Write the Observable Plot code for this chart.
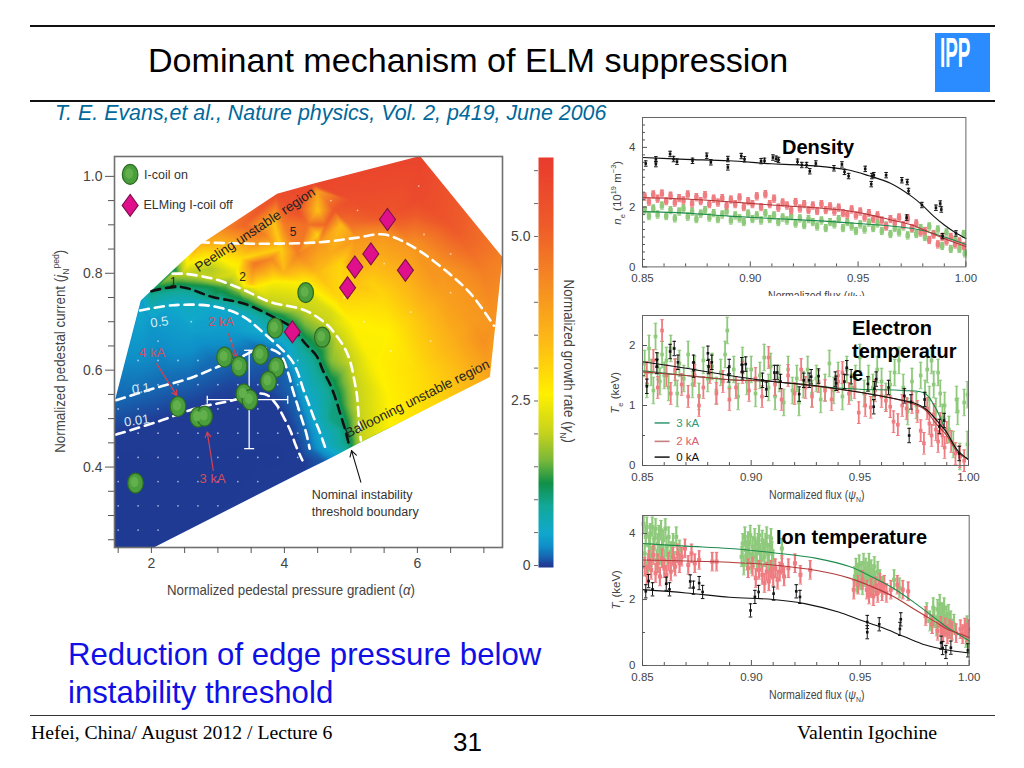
<!DOCTYPE html>
<html><head><meta charset="utf-8">
<script src="https://cdn.jsdelivr.net/npm/d3@7"></script>
<script src="https://cdn.jsdelivr.net/npm/@observablehq/plot@0.6"></script>
<style>
html,body{margin:0;padding:0;background:#fff;width:1024px;height:768px;overflow:hidden;font-family:"Liberation Sans",Arial,sans-serif}
#page{position:relative;width:1024px;height:768px;overflow:hidden}
.t{position:absolute;white-space:nowrap;line-height:1}
.t sub,.t sup{font-size:.65em;line-height:0}
.r{position:absolute;background:#111}
.p{position:absolute;overflow:hidden}
.p svg{display:block;background:transparent}
</style></head><body><div id="page"></div>
<script>
// ---------- slide texts ----------
const titleText="Dominant mechanism of ELM suppression";
const citation="T. E. Evans,et al., Nature physics, Vol. 2, p419, June 2006";
const bodyLines=["Reduction of edge pressure below","instability threshold"];
const footer=["Hefei, China/ August 2012 / Lecture 6","31","Valentin Igochine"];
// ---------- main chart ----------
const hull=[[1.45,.235,0],[2.05,.235,0],[4.3,.392,.005],[4.6,.412,.1],[4.8,.426,.5],[4.96,.438,1],[5.15,.451,2],[5.6,.482,2.6],[6.3,.531,3],[7.09,.586,3.8],[7.28,.833,4.5],[6.04,1.042,5.9],[4.43,.985,5.8],[3.89,.964,5.6],[2.75,.861,3.6],[2.32,.806,1.0],[1.84,.744,.4],[1.45,.537,.12],[1.45,.462,.005]];
const frameCorners=[[1.445,.234],[1.445,1.041],[7.28,1.041],[7.28,.234],[1.445,.234]];
const c5=[[2.73,.864],[3.56,.861],[4.53,.864],[5.07,.873],[5.5,.88],[5.94,.854],[6.42,.806],[6.8,.758],[7.15,.692]];
const c2=[[2.32,.799],[2.48,.799],[2.92,.789],[3.35,.768],[3.78,.741],[4.32,.723],[4.64,.694],[4.8,.668],[4.92,.642],[5,.613],[5.05,.58],[5.09,.55],[5.11,.517],[5.13,.48],[5.15,.455]];
const c1=[[2,.763],[2.43,.772],[2.92,.751],[3.4,.737],[3.83,.71],[4.1,.689],[4.32,.654],[4.49,.628],[4.58,.599],[4.69,.57],[4.77,.541],[4.84,.51],[4.91,.479],[4.97,.447]];
const c05=[[1.83,.723],[2.32,.734],[2.92,.732],[3.35,.713],[3.67,.679],[4.1,.622],[4.2,.595],[4.28,.562],[4.36,.533],[4.44,.503],[4.53,.473],[4.61,.442]];
const c01=[[1.47,.538],[2.03,.562],[2.57,.583],[3,.607],[3.32,.625],[3.65,.645],[3.92,.635],[4.06,.593],[4.12,.562],[4.19,.531],[4.26,.5],[4.33,.469],[4.38,.438]];
const c001=[[1.47,.467],[2.1,.494],[2.69,.522],[3.17,.536],[3.7,.551],[3.87,.531],[4,.5],[4.1,.472],[4.17,.445],[4.27,.414]];
const contours=[{l:5,v:4.1,d:c5,s:"#fff"},{l:2,v:2.0,d:c2,s:"#fff"},{l:1,v:1.05,d:c1,s:"#111"},{l:.5,v:.5,d:c05,s:"#fff"},{l:.1,v:.14,d:c01,s:"#fff"},{l:.01,v:.005,d:c001,s:"#fff"}];
const extraField=[[1.7,.3,0],[2.5,.35,0],[3.2,.4,0],[3.8,.42,0],[1.6,.4,0],[3,.5,.005],[5,.7,2.6],[5.3,.62,2.55],[5.55,.55,2.6],[5.55,.68,2.6],[5.5,.75,3],[6,.7,3.2],[6.5,.66,3.6],[7,.66,4.2],[6,.6,2.9],[6.6,.6,3.4],[6.8,.7,4],[7,.8,4.5],[6.5,.9,5.3],[6,.95,5.7],[5,.95,5.6],[5.6,.92,5.4],[4.5,.8,3.4],[4.3,.78,2.6],[4,.8,3.5],[3.55,.82,4.7],[3.35,.83,2.9],[3.8,.83,4.4],[3.65,.84,3.1],[3.95,.85,3.1],[4.2,.84,4.5],[4.7,.84,3.7],[5,.82,3.7],[5.3,.78,3.1],[5.8,.8,3.6],[6.2,.8,4.1],[6.4,.75,3.9],[4.5,.93,3.3],[4.2,.93,5.5],[4.75,.93,5.3],[4.5,.88,3],[3.4,.9,5],[3,.89,4.3],[3.1,.84,2.9],[2.9,.81,1.9],[4.8,.75,3],[5.1,.78,3.3],[4.7,.72,2.2],[4.72,.62,1.7],[4.4,.75,2.2],[2.5,.75,.7],[2,.7,.38],[2.6,.68,.42],[3.2,.68,.4],[1.9,.62,.28],[2.2,.6,.2],[2.9,.62,.16],[3.2,.57,.04],[3.6,.5,.005],[4.55,.55,.75],[4.7,.5,1],[3.85,.9,3.2],[3.85,.78,2.5],[3.7,.88,4.5],[4,.9,4.6],[4.35,.9,4.8],[4.5,.97,3.9],[4.62,.9,5],[4.85,.9,3.4],[4.85,.82,3],[4.98,.9,4.8],[3.5,.78,3.4],[3.6,.77,2.5],[3.25,.8,2.3],[3.3,.76,1.5],[3.1,.77,1.4],[2.9,.77,1.2]];
const sampleX=[1.5,1.8,2.1,2.4,2.7,3,3.3,3.6,3.9,4.2];
const sampleY=[.27,.32,.37,.42,.47,.52,.57,.62];
const moreSamples=[[3.2,.66],[2.6,.7],[2.1,.66],[4.9,.75],[5.2,.7],[5.6,.64],[5.9,.72],[6.2,.66],[6.5,.76],[6.02,.98],[6.1,.88],[5.1,.93],[4.7,.95],[5.5,.82],[6.5,.84]];
const greenDots=[[1.68,1.004],[4.32,.76],[3.86,.687],[4.57,.668],[3.1,.627],[3.32,.608],[3.64,.632],[3.88,.606],[3.76,.577],[3.39,.551],[3.48,.539],[2.4,.525],[2.7,.503],[2.8,.505],[1.76,.367]];
const pinkDots=[[1.68,.94],[5.55,.911],[5.06,.813],[5.3,.84],[5.82,.806],[4.95,.77],[4.12,.679]];
const arrowsRed=[[3.16,.675,3.28,.627],[2.08,.613,2.38,.548],[2.93,.393,2.84,.472]];
const arrowBlack=[[5.15,.369,5.01,.434]];
const crossV=[3.47,.438,.641],crossH=[.539,2.84,4.05];
const labelsWhite=[["0.5",2.12,.699],["0.1",1.84,.562],["0.01",1.78,.496]];
const labelsDark=[["5",4.13,.885],["2",3.37,.792],["1",2.33,.782]];
const labelsRed=[["2 kA",3.05,.699],["4 kA",2.01,.636],["3 kA",2.92,.376]];
const labelsBlack=[["I-coil on",1.89,1.002],["ELMing I-coil off",1.88,.941],["Nominal instability",4.41,.343],["threshold boundary",4.41,.307]];
const gammaStops=[0,.02,.14,.3,.5,.9,1.25,1.6,2.0,2.6,3.4,4.3,5.2,6.25];
const gammaColors=["#1f3a93","#1f3f98","#1668b2","#0f90c8","#10a8cc","#12a89a","#109048","#7ab83a","#c4d21e","#fff000","#fdbb15","#f58b22","#ee5a2a","#e8392e"];
// ---------- profile panels ----------
const neBlackFit=[[.85,3.66],[.87,3.6],[.89,3.55],[.91,3.45],[.93,3.38],[.945,3.25],[.955,3.05],[.965,2.8],[.975,2.35],[.98,2.05],[.985,1.7],[.99,1.4],[.995,1.15],[1,.95]];
const neRedFit=[[.85,2.32],[.87,2.27],[.89,2.18],[.91,2.07],[.93,1.98],[.945,1.88],[.955,1.75],[.965,1.58],[.975,1.4],[.985,1.1],[.99,.95],[1,.68]];
const neGreenFit=[[.85,1.85],[.87,1.8],[.89,1.7],[.91,1.62],[.93,1.55],[.95,1.45],[.97,1.33],[.98,1.22],[.99,1],[1,.75]];
const neBlack=[[.8515,3.46],[.8562,3.6],[.8562,3.44],[.8628,3.78],[.8644,3.61],[.866,3.52],[.8732,3.55],[.8798,3.72],[.8817,3.5],[.8896,3.61],[.8896,3.33],[.8958,3.71],[.8973,3.6],[.905,3.54],[.9066,3.55],[.9105,3.66],[.912,3.62],[.9131,3.58],[.9219,3.52],[.9239,3.41],[.9261,3.41],[.9276,3.2],[.9304,3.46],[.9388,3.3],[.9425,3.43],[.9437,3.18],[.9456,3.04],[.9533,3.28],[.9564,3.04],[.9573,3.07],[.9561,2.77],[.963,3.07],[.9703,2.9],[.9728,2.84],[.9734,2.54],[.9725,1.65],[.9796,2.07],[.9861,1.98],[.9881,2.12],[.9886,1.92],[.9892,1.03],[.9954,1.12]];
const neRed=[[.851,2.35],[.853,2.18],[.855,2.42],[.857,2.28],[.859,2.45],[.861,2.2],[.863,2.38],[.865,2.15],[.867,2.3],[.869,2.22],[.871,2.42],[.873,2.12],[.875,2.33],[.877,2.2],[.879,2.4],[.881,2.1],[.883,2.28],[.885,2.15],[.887,2.3],[.889,2.05],[.891,2.25],[.893,2.1],[.895,2.32],[.897,2],[.899,2.2],[.901,2.1],[.903,2.36],[.905,2],[.907,2.43],[.909,2.1],[.911,2.28],[.913,1.98],[.915,2.15],[.917,2.05],[.919,1.9],[.921,2.17],[.923,1.95],[.925,2.1],[.927,1.9],[.929,2.05],[.931,1.87],[.933,2.1],[.935,1.9],[.937,2.02],[.939,1.85],[.941,1.98],[.943,1.8],[.945,1.75],[.947,1.92],[.949,1.72],[.951,1.85],[.953,1.65],[.955,1.8],[.957,1.6],[.959,1.72],[.961,1.55],[.963,1.35],[.965,1.6],[.967,1.48],[.969,1.65],[.971,1.4],[.973,1.62],[.975,1.3],[.977,1.45],[.979,1.15],[.981,1.2],[.983,.9],[.985,1.08],[.987,.75],[.989,1],[.991,.85],[.993,1],[.995,.75],[.997,.85],[.999,.7]];
const neGreen=[[.851,1.9],[.853,1.7],[.855,1.95],[.857,1.75],[.859,2.05],[.861,1.7],[.863,1.9],[.865,1.62],[.867,1.85],[.869,1.95],[.871,1.68],[.873,1.85],[.875,1.6],[.877,1.78],[.879,1.9],[.881,1.65],[.883,1.8],[.885,1.6],[.887,1.75],[.889,1.85],[.891,1.55],[.893,1.72],[.895,1.62],[.897,1.5],[.899,1.78],[.901,1.6],[.903,1.72],[.905,1.55],[.907,1.8],[.909,1.6],[.911,1.72],[.913,1.5],[.915,1.65],[.917,1.55],[.919,1.7],[.921,1.45],[.923,1.62],[.925,1.4],[.927,1.6],[.929,1.5],[.931,1.35],[.933,1.55],[.935,1.3],[.937,1.5],[.939,1.42],[.941,1.6],[.943,1.3],[.945,1.5],[.947,1.35],[.949,1.2],[.951,1.42],[.953,1.25],[.955,1.48],[.957,1.3],[.959,1.45],[.961,1.2],[.963,1.38],[.965,1.1],[.967,1.3],[.969,1.15],[.971,1.35],[.973,1.05],[.975,1.28],[.977,1.1],[.979,1.3],[.981,1],[.983,1.35],[.985,1.1],[.987,1.25],[.989,.7],[.991,1.15],[.993,.6],[.995,.9],[.997,.6],[.999,1.1],[.9995,.45]];
const teGreenFit=[[.85,1.58],[.87,1.5],[.89,1.43],[.91,1.4],[.93,1.32],[.95,1.27],[.97,1.25],[.98,1.2],[.985,.95],[.99,.55],[.995,.25],[1,.1]];
const teRedFit=[[.85,1.56],[.87,1.5],[.89,1.43],[.91,1.4],[.93,1.32],[.95,1.22],[.965,1.12],[.975,1.02],[.98,.93],[.985,.7],[.99,.5],[.995,.22],[1,.1]];
const teBlackFit=[[.85,1.73],[.87,1.62],[.89,1.5],[.91,1.4],[.93,1.33],[.95,1.22],[.965,1.12],[.975,1.04],[.98,.95],[.983,.85],[.987,.68],[.99,.55],[.995,.25],[1,.1]];
const teBlack=[[.852,1.32],[.8566,1.76],[.8566,1.65],[.8627,1.9],[.8646,1.95],[.8663,1.72],[.8735,1.72],[.8735,1.59],[.8801,1.87],[.8804,1.65],[.8819,1.72],[.8899,1.65],[.8896,1.51],[.8957,1.68],[.896,1.56],[.8975,1.69],[.9052,1.42],[.907,1.27],[.9107,1.55],[.912,1.55],[.9135,1.4],[.9221,1.19],[.9242,1.42],[.9267,1.42],[.9276,1.48],[.931,1.49],[.9387,1.44],[.9391,1.37],[.9429,1.4],[.944,1.63],[.946,1.48],[.9537,1.36],[.9564,.98],[.9567,1.28],[.9575,1.44],[.9632,1.3],[.9705,1.16],[.9727,.5],[.9735,1.06],[.9798,1.1],[.9866,.65],[.9888,.75],[.9957,.2]];
const teGreen=[[.851,1.7],[.852,1.35],[.853,1.95],[.854,1.55],[.855,1.25],[.856,2.15],[.857,1.65],[.858,1.4],[.859,1.85],[.86,1.5],[.861,1.75],[.862,1.3],[.863,1.95],[.865,1.55],[.866,1.2],[.867,1.7],[.869,1.45],[.871,1.85],[.873,1.35],[.874,1.6],[.876,1.15],[.878,1.75],[.88,1.45],[.882,1.65],[.884,1.25],[.886,1.55],[.888,1.85],[.889,2.25],[.89,1.3],[.892,1.6],[.894,1.15],[.896,1.75],[.898,1.4],[.9,1.6],[.902,1.2],[.904,1.5],[.906,1.8],[.908,1.3],[.909,1.65],[.911,1.15],[.913,1.45],[.915,1.05],[.917,1.6],[.919,1.25],[.921,1.45],[.922,1.05],[.924,1.35],[.926,1.6],[.928,1.2],[.93,1.45],[.932,1.1],[.934,1.3],[.936,1.7],[.938,1.25],[.94,1.5],[.942,1.15],[.944,1.6],[.946,1.3],[.948,1.45],[.95,1.8],[.952,1.2],[.954,1.45],[.956,1.3],[.958,1.6],[.96,1.4],[.962,1.15],[.964,1.35],[.966,1.55],[.968,1.75],[.97,1.3],[.972,.9],[.974,1.4],[.976,1],[.978,1.5],[.98,1.2],[.981,1.6],[.982,1.1],[.983,1.75],[.984,1.35],[.985,.9],[.986,1.55],[.987,1.2],[.988,.8],[.989,1],[.991,.6],[.993,.35],[.995,.9],[.996,.15],[.998,1.05],[.9995,.35],[.9995,1.18],[.9945,1.1]];
const teRed=[[.852,1.55],[.855,1.75],[.857,1.3],[.859,2.25],[.861,1.5],[.863,1.2],[.865,1.6],[.868,1.35],[.871,1.15],[.874,1.5],[.876,1],[.878,1.3],[.881,1.55],[.884,1.2],[.887,1.4],[.89,1.1],[.893,1.3],[.896,1.55],[.899,1.25],[.902,1.45],[.905,1.15],[.908,1.8],[.911,1.35],[.914,1.1],[.917,1.5],[.92,1.2],[.923,1.6],[.925,1.3],[.928,1.15],[.931,1.4],[.934,1.25],[.937,1.1],[.94,1.4],[.942,1.55],[.945,1.2],[.9475,1.3],[.9495,.88],[.9525,1],[.955,.97],[.957,1.25],[.96,1.15],[.962,1.08],[.964,.98],[.9655,.73],[.9675,.68],[.9695,1],[.9715,.95],[.974,1.05],[.9765,.9],[.978,.58],[.9795,.37],[.981,.95],[.982,.7],[.983,.5],[.984,.85],[.985,.6],[.986,.4],[.987,.7],[.988,.5],[.989,.3],[.99,.55],[.992,.4],[.994,.2],[.996,.15],[.998,.08]];
const tiGreenFit=[[.85,3.7],[.87,3.62],[.89,3.55],[.91,3.42],[.93,3.25],[.945,3],[.955,2.7],[.965,2.35],[.975,1.9],[.985,1.4],[.99,1.15],[.995,.95],[1,.75]];
const tiRedFit=[[.85,3.2],[.87,3.17],[.89,3.13],[.91,3.05],[.93,2.88],[.945,2.65],[.955,2.4],[.965,2.1],[.975,1.7],[.985,1.3],[.99,1.1],[.995,.98],[1,.85]];
const tiBlackFit=[[.85,2.3],[.87,2.2],[.89,2.07],[.91,2],[.925,1.87],[.94,1.62],[.95,1.38],[.96,1.15],[.97,.88],[.98,.62],[.99,.47],[1,.38]];
const tiBlack=[[.8515,2.25],[.8528,2.56],[.8546,2.31],[.8609,2.48],[.8624,2.31],[.8719,2.55],[.8734,2.36],[.876,2.5],[.8776,2.23],[.8996,1.67],[.9016,2.08],[.9033,2.23],[.9102,2.18],[.9206,2.25],[.9223,2.08],[.9532,1.32],[.9532,1.01],[.9587,1.25],[.9682,1.11],[.9686,1.4],[.9871,.69],[.9878,.53],[.9893,.41],[.9916,.54],[.9994,.46]];
const tiGreen=[[.8505,4.3],[.851,3.4],[.8515,3.9],[.852,4.2],[.8525,3.1],[.853,3.65],[.8535,4],[.854,3.3],[.8545,4.2],[.855,3.55],[.8555,3.85],[.856,4.15],[.8565,3.2],[.857,3.7],[.8575,3.95],[.858,3.35],[.8585,4.1],[.859,3.55],[.8595,3.8],[.86,3.2],[.8605,4.15],[.861,3.6],[.8615,3.35],[.862,3.9],[.863,3.45],[.864,3.7],[.8645,3.15],[.8655,3.9],[.867,3.5],[.8955,3.3],[.896,3.7],[.8965,3.05],[.897,3.9],[.8975,3.5],[.898,3.2],[.8985,3.75],[.899,3.4],[.8995,3.95],[.9,3.1],[.9005,3.6],[.901,3.3],[.9015,3.85],[.902,3.5],[.9025,3.15],[.903,3.7],[.9035,3.95],[.904,3.4],[.9045,3.2],[.905,3.8],[.9055,3.5],[.906,3.3],[.9065,3.7],[.907,3.9],[.9075,3.4],[.908,3.15],[.9085,3.65],[.909,3.85],[.9095,3.45],[.91,3.2],[.914,3.55],[.9475,2.7],[.948,2.95],[.9485,2.5],[.949,2.8],[.9495,3.05],[.95,2.6],[.9505,2.85],[.951,2.45],[.9515,3.1],[.952,2.7],[.9525,2.95],[.953,2.55],[.9535,2.8],[.954,3.1],[.9545,2.65],[.955,2.9],[.9555,2.45],[.956,2.75],[.9565,3],[.957,2.55],[.958,2.85],[.959,2.6],[.96,2.4],[.9655,2.6],[.968,2.35],[.9805,1.6],[.982,1.35],[.9835,1.75],[.984,1.45],[.985,1.2],[.9855,1.7],[.986,1.45],[.9865,1.85],[.987,1.25],[.9875,1.6],[.988,1.4],[.9885,1.75],[.989,1.2],[.9895,1.5],[.99,1.3],[.9905,1.55],[.991,1.15],[.9915,1.35],[.992,1.1],[.993,1.25],[.999,1.2],[.9995,.7],[.9985,.85]];
const tiRed=[[.851,3],[.852,2.75],[.853,3.2],[.854,2.9],[.855,3.35],[.856,2.8],[.857,3.1],[.858,2.7],[.859,3.25],[.86,2.95],[.861,2.75],[.862,3.15],[.863,2.85],[.864,3.3],[.865,3],[.866,3.4],[.867,3.1],[.868,3.3],[.8695,3.55],[.871,3.05],[.8725,3.4],[.874,3.1],[.876,3.2],[.882,3.15],[.884,3.15],[.8985,2.95],[.9005,3],[.902,2.65],[.9035,2.9],[.905,2.75],[.906,2.5],[.907,2.85],[.908,2.55],[.909,2.9],[.91,2.7],[.911,2.95],[.912,2.6],[.913,2.85],[.914,3.05],[.915,2.7],[.917,2.95],[.92,3.1],[.9225,2.75],[.927,2.9],[.947,2.3],[.949,2.45],[.951,2.6],[.953,2.3],[.954,2.15],[.955,2.35],[.956,2.1],[.957,2.4],[.958,2.2],[.959,2.5],[.96,2.25],[.961,2.45],[.962,2.2],[.964,2.3],[.967,2.45],[.9695,2.3],[.972,2.25],[.98,1.5],[.983,1.25],[.9855,1.05],[.987,1.2],[.988,1],[.989,1.15],[.99,.95],[.991,1.1],[.992,1.05],[.994,.98],[.996,1.1],[.997,.95],[.998,1.15],[.999,1],[.9995,1.1]];
const teLegend=[["3 kA",.709,"#2f9a78","#3f9c78"],["2 kA",.402,"#d8606a","#c87f80"],["0 kA",.14,"#111","#222"]];
const fluxTicks=[.85,.9,.95,1];
const fluxMinor=[.86,.87,.88,.89,.91,.92,.93,.94,.96,.97,.98,.99];

// ---------- helpers ----------
const page=document.getElementById("page");
const SANS='"Liberation Sans",Arial,sans-serif';
function txt(s,x,y,size,opt={}){const d=document.createElement("div");d.className="t";d.innerHTML=s;
  Object.assign(d.style,{left:x+"px",top:(y-size/2)+"px",fontSize:size+"px"},opt);page.appendChild(d);return d}
function rule(x,y,w,h,c="#111"){const d=document.createElement("div");d.className="r";
  Object.assign(d.style,{left:x+"px",top:y+"px",width:w+"px",height:h+"px",background:c});page.appendChild(d)}
function place(svg,x,y,w,h,z=1){const d=document.createElement("div");d.className="p";
  Object.assign(d.style,{left:x+"px",top:y+"px",width:w+"px",height:h+"px",zIndex:z});d.appendChild(svg);page.appendChild(d)}
function ell(rx,ry){const k=.5523;return{draw(c){c.moveTo(rx,0);c.bezierCurveTo(rx,k*ry,k*rx,ry,0,ry);c.bezierCurveTo(-k*rx,ry,-rx,k*ry,-rx,0);c.bezierCurveTo(-rx,-k*ry,-k*rx,-ry,0,-ry);c.bezierCurveTo(k*rx,-ry,rx,-k*ry,rx,0);c.closePath()}}}
function dia(rx,ry){return{draw(c){c.moveTo(0,-ry);c.lineTo(rx,0);c.lineTo(0,ry);c.lineTo(-rx,0);c.closePath()}}}
function sq(h){return{draw(c){c.rect(-h,-h,2*h,2*h)}}}
function capH(h){return{draw(c){c.moveTo(-h,0);c.lineTo(h,0)}}}
function capV(h){return{draw(c){c.moveTo(0,-h);c.lineTo(0,h)}}}

// ---------- slide frame ----------
rule(30,25,965,2);rule(30,100,965,2);rule(30,715,965,1,"#333");
txt(titleText,148,60,34.1,{color:"#000"});
txt(citation,55,113.5,21.4,{color:"#00689a",fontStyle:"italic"});
bodyLines.forEach((s,i)=>txt(s,68,655+i*37.5,31.2,{color:"#1010e6"}));
txt(footer[0],31,733,19.7,{fontFamily:'"Liberation Serif",serif'});
txt(footer[1],453,742,26);
txt(footer[2],797,733,19.8,{fontFamily:'"Liberation Serif",serif'});
const logo=document.createElement("div");
Object.assign(logo.style,{position:"absolute",left:"935px",top:"33px",width:"55px",height:"59px",background:"#2a8cff"});page.appendChild(logo);
txt("IPP",940,53,42,{color:"#fff",fontWeight:"bold",transform:"scaleX(.45)",transformOrigin:"left center"});

// ---------- main chart ----------
const field=[...hull,...contours.flatMap(c=>c.d.map(p=>[p[0],p[1],c.v])),...extraField];
const maskRing=[...hull.map(p=>[p[0],p[1]]),hull[0].slice(0,2),...frameCorners];
const aboveEdge=([x,y])=>y>.235+(x-2.05)*.0696+.012;
const samples=[...d3.cross(sampleX,sampleY).filter(aboveEdge),...moreSamples];
const ML=74,MT=16,W=388,H=391;
const txtm=(data,o)=>Plot.text(data,{x:"1",y:"2",text:"0",fontFamily:SANS,...o});
const main=Plot.plot({width:ML+W+10,height:MT+H+50,marginLeft:ML,marginTop:MT,marginRight:10,marginBottom:50,
 style:{background:"transparent",fontFamily:SANS},
 x:{type:"linear",domain:[1.445,7.28],range:[ML,ML+W]},y:{type:"linear",domain:[.234,1.041],range:[MT+H,MT]},
 color:{type:"linear",domain:gammaStops,range:gammaColors,interpolate:"rgb"},
 marks:[
  Plot.raster(field,{x:"0",y:"1",fill:"2",interpolate:"barycentric",pixelSize:1}),
  Plot.line(maskRing,{x:"0",y:"1",fill:"#fff",stroke:"none"}),
  Plot.dot(samples,{x:"0",y:"1",r:.9,fill:"#fff",fillOpacity:.6}),
  ...contours.map(c=>Plot.line(c.d,{x:"0",y:"1",stroke:c.s,strokeWidth:2.6,strokeDasharray:"9,6",curve:"catmull-rom"})),
  Plot.ruleX([crossV],{x:"0",y1:"1",y2:"2",stroke:"#fff",strokeWidth:1.3}),
  Plot.ruleY([crossH],{y:"0",x1:"1",x2:"2",stroke:"#fff",strokeWidth:1.3}),
  Plot.dot([[crossV[0],crossV[1]],[crossV[0],crossV[2]]],{x:"0",y:"1",symbol:capH(5),stroke:"#fff",strokeWidth:1.3,fill:"none"}),
  Plot.dot([[crossH[1],crossH[0]],[crossH[2],crossH[0]]],{x:"0",y:"1",symbol:capV(4),stroke:"#fff",strokeWidth:1.3,fill:"none"}),
  txtm(labelsWhite,{fill:"#d4ecf2",fontSize:13,rotate:-8}),
  txtm(labelsDark,{fill:"#222",fontSize:12}),
  txtm(labelsRed,{fill:"#d2505f",fontSize:13}),
  txtm(labelsBlack,{fill:"#333",fontSize:12.5,textAnchor:"start"}),
  Plot.text(["Peeling unstable region"],{x:3.56,y:.89,text:d=>d,rotate:-33.5,fontSize:13.5,fill:"#222",fontFamily:SANS}),
  Plot.text(["Ballooning unstable region"],{x:6.0,y:.541,text:d=>d,rotate:-26.4,fontSize:13.5,fill:"#222",fontFamily:SANS}),
  Plot.arrow(arrowsRed,{x1:"0",y1:"1",x2:"2",y2:"3",stroke:"#d8404e",bend:0,strokeWidth:1.2,headLength:7}),
  Plot.arrow(arrowBlack,{x1:"0",y1:"1",x2:"2",y2:"3",stroke:"#111",bend:0,strokeWidth:1.1,headLength:9}),
  Plot.dot(greenDots,{x:"0",y:"1",symbol:ell(7.8,10),fill:"#4a9e3c",stroke:"#2d6a24",strokeWidth:1.2}),
  Plot.dot(greenDots,{x:"0",y:"1",symbol:ell(4,5.2),fill:"#62b04c",dx:-1,dy:-1}),
  Plot.dot(pinkDots,{x:"0",y:"1",symbol:dia(8,11),fill:"#e0108c",stroke:"#7c1048",strokeWidth:1.1}),
  Plot.frame({stroke:"#707070",strokeWidth:1.6}),
  Plot.axisX([2,4,6],{anchor:"bottom",tickSize:6,tickPadding:5,fontSize:14,stroke:"#555",fill:"#444",label:null,fontFamily:SANS}),
  Plot.axisX([1.5,2.5,3,3.5,4.5,5,5.5,6.5,7],{anchor:"bottom",tickSize:6,text:null,label:null,stroke:"#555"}),
  Plot.axisY([.4,.6,.8,1],{anchor:"left",tickSize:9,tickPadding:3,tickFormat:d3.format(".1f"),fontSize:14,stroke:"#555",fill:"#444",label:null,fontFamily:SANS}),
  Plot.axisY([.25,.3,.35,.45,.5,.55,.65,.7,.75,.85,.9,.95],{anchor:"left",tickSize:6,text:null,label:null,stroke:"#555"})
 ]});
place(main,40,140,ML+W+10,MT+H+50);
const lab={color:"#444",zIndex:3};
txt("Normalized pedestal pressure gradient (<i>α</i>)",167,590,14.5,{...lab,transform:"scaleX(.915)",transformOrigin:"left center"});
txt("Normalized pedestal current (<i>j</i><sub>N</sub><sup>ped</sup>)",60,351,14.5,{...lab,transform:"translate(-50%,0) rotate(-90deg) scaleX(.92)"});
txt("Normalized growth rate (<i>γ</i><sub>N</sub>)",569,361,14.5,{...lab,transform:"translate(-50%,0) rotate(90deg) scaleX(.92)"});

// ---------- colour bar ----------
const bar=Plot.plot({width:52,height:430,marginLeft:36,marginRight:1,marginTop:10,marginBottom:10,
 style:{background:"transparent",fontFamily:SANS},
 x:{type:"linear",domain:[0,1],axis:null},y:{type:"linear",domain:[-.03,6.2]},
 color:{type:"linear",domain:gammaStops,range:gammaColors,interpolate:"rgb"},
 marks:[
  Plot.raster({x1:0,x2:1,y1:-.03,y2:6.2,fill:(x,y)=>Math.max(y,0),pixelSize:1}),
  Plot.axisY([0,2.5,5],{anchor:"left",tickSize:4,tickPadding:4,tickFormat:d=>d===0?"0":d.toFixed(1),fontSize:14,stroke:"#666",fill:"#444",label:null,fontFamily:SANS}),
  Plot.axisY([.5,1,1.5,2,3,3.5,4,4.5,5.5,6],{anchor:"left",tickSize:4,text:null,label:null,stroke:"#666"})
 ]});
place(bar,502,147,52,430,2);

// ---------- profile panels ----------
function panel({w,h,ymax,major,minor,red,green,black,gf,rf,bf,eg,er,eb,legend,bw,ss}){
 const L=30,T=3,B=35;
 const pts=(data,col,e,s,sw)=>[
  Plot.ruleX(data,{x:"0",y1:d=>d[1]-e,y2:d=>Math.min(d[1]+e,ymax),stroke:col,strokeWidth:sw}),
  Plot.dot(data.filter(d=>d[1]+e<ymax),{x:"0",y:d=>d[1]+e,symbol:capH(1.8),stroke:col,fill:"none",strokeWidth:1}),
  Plot.dot(data,{x:"0",y:d=>d[1]-e,symbol:capH(1.8),stroke:col,fill:"none",strokeWidth:1}),
  Plot.dot(data,{x:"0",y:"1",symbol:sq(s),fill:col})];
 return Plot.plot({width:L+w+22,height:T+h+B,marginLeft:L,marginTop:T,marginRight:22,marginBottom:B,
  style:{background:"transparent",fontFamily:SANS},
  x:{type:"linear",domain:[.85,1]},y:{type:"linear",domain:[0,ymax]},
  marks:[
   ...pts(green,"#8fca7c",eg,ss,bw),
   ...pts(red,"#ee7c80",er,ss,bw),
   Plot.line(gf,{x:"0",y:"1",stroke:"#1e8a4e",strokeWidth:1.1,curve:"catmull-rom"}),
   Plot.line(rf,{x:"0",y:"1",stroke:"#b03a3a",strokeWidth:1.1,curve:"catmull-rom"}),
   Plot.line(bf,{x:"0",y:"1",stroke:"#111",strokeWidth:1.1,curve:"catmull-rom"}),
   ...pts(black,"#111",eb,1.3,1),
   ...(legend?[
     Plot.ruleY(legend,{y:"1",x1:.8558,x2:.8627,stroke:"3",strokeWidth:1.6}),
     Plot.text(legend,{x:.8655,y:"1",text:"0",fill:"2",textAnchor:"start",fontSize:11.5,fontFamily:SANS})]:[]),
   Plot.frame({stroke:"#666",strokeWidth:1}),
   Plot.axisX(fluxTicks,{anchor:"bottom",tickSize:-5,tickPadding:12,tickFormat:d3.format(".2f"),fontSize:11.5,fill:"#444",stroke:"#555",label:null,fontFamily:SANS}),
   Plot.axisX(fluxMinor,{anchor:"bottom",tickSize:-3,text:null,label:null,stroke:"#555"}),
   Plot.axisY(major,{anchor:"left",tickSize:-5,tickPadding:12,tickFormat:d=>String(d),fontSize:11.5,fill:"#444",stroke:"#555",label:null,fontFamily:SANS}),
   Plot.axisY(minor,{anchor:"left",tickSize:-3,text:null,label:null,stroke:"#555"})
  ]});
}
const panels=[
 {left:642.3,top:117.3,w:323.4,h:149.4,ymax:5,major:[0,2,4],minor:[.25,.5,.75,1,1.25,1.5,1.75,2.25,2.5,2.75,3,3.25,3.5,3.75,4.25,4.5,4.75],
  red:neRed,green:neGreen,black:neBlack,gf:neGreenFit,rf:neRedFit,bf:neBlackFit,eg:.12,er:.12,eb:.09,bw:3.4,ss:2.2},
 {left:642.3,top:315,w:326,h:150,ymax:2.5,major:[0,1,2],minor:[.5,1.5],
  red:teRed,green:teGreen,black:teBlack,gf:teGreenFit,rf:teRedFit,bf:teBlackFit,eg:.22,er:.18,eb:.12,legend:teLegend,bw:1.8,ss:1.8},
 {left:642.3,top:515,w:326.7,h:150,ymax:4.55,major:[0,2,4],minor:[1,3],
  red:tiRed,green:tiGreen,black:tiBlack,gf:tiGreenFit,rf:tiRedFit,bf:tiBlackFit,eg:.3,er:.28,eb:.2,bw:2.2,ss:2}
];
panels.forEach(p=>place(panel(p),p.left-30,p.top-3,p.w+52,p.h+38,2));
// axis titles of panels
const fluxLab="Normalized flux (<i>ψ</i><sub>N</sub>)";
const clip=document.createElement("div");
Object.assign(clip.style,{position:"absolute",left:"720px",top:"288px",width:"200px",height:"8px",overflow:"hidden",zIndex:3});
const cl=document.createElement("div");cl.innerHTML=fluxLab;
Object.assign(cl.style,{position:"absolute",left:"48px",top:"1px",fontSize:"12px",color:"#444",whiteSpace:"nowrap",transform:"scaleX(.88)",transformOrigin:"left center"});
clip.appendChild(cl);page.appendChild(clip);
[495,695].forEach(y=>txt(fluxLab,769,y,12,{color:"#444",zIndex:3,transform:"scaleX(.88)",transformOrigin:"left center"}));
[["<i>n</i><sub>e</sub> (10<sup>19</sup> m<sup>−3</sup>)",193,618],["<i>T</i><sub>e</sub> (keV)",393,616],["<i>T</i><sub>i</sub> (keV)",590,617]].forEach(([s,y,x])=>
  txt(s,x,y,11.5,{color:"#444",zIndex:3,transform:"translate(-50%,0) rotate(-90deg)"}));
// bold overlays
const bold={fontWeight:"bold",color:"#000",zIndex:5};
txt("Density",782,147,20,bold);
["Electron","temperatur","e"].forEach((s,i)=>txt(s,852,328+i*23,20,bold));
txt("Ion temperature",776,537,20,bold);
</script></body></html>
